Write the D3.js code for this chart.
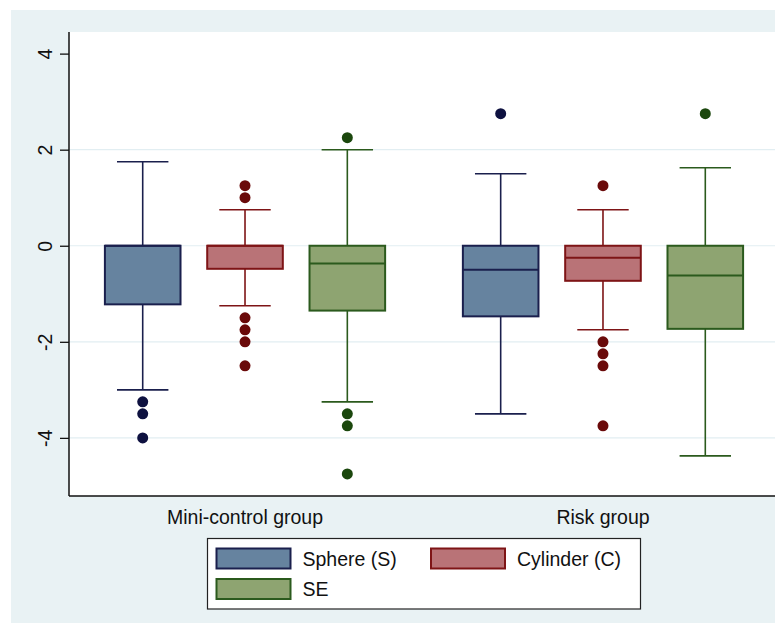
<!DOCTYPE html>
<html>
<head>
<meta charset="utf-8">
<style>
  body { margin: 0; background: white; }
  svg { display: block; font-family: "Liberation Sans", Arial, sans-serif; }
</style>
</head>
<body>
<svg id="chart" width="775" height="625"></svg>
<script src="https://d3js.org/d3.v7.min.js"></script>
<script>
// groups on the x axis and the three measures
const groups = ["Mini-control group", "Risk group"];
const series = ["Sphere (S)", "Cylinder (C)", "SE"];
const yTicks = [-4, -2, 0, 2, 4];
const gridTicks = [-4, -2, 0, 2];

// box stats per series, one entry per group: [lower whisker, q1, median, q3, upper whisker]
const sphereStats = [[-3.0, -1.22, 0, 0, 1.75], [-3.5, -1.47, -0.5, 0, 1.5]];
const cylinderStats = [[-1.25, -0.48, 0, 0, 0.75], [-1.75, -0.73, -0.25, 0, 0.75]];
const seStats = [[-3.25, -1.35, -0.37, 0, 2.0], [-4.375, -1.73, -0.62, 0, 1.625]];

// outside values
const sphereOut = [[-3.25, -3.5, -4.0], [2.75]];
const cylinderOut = [[1.0, 1.25, -1.5, -1.75, -2.0, -2.5], [1.25, -2.0, -2.25, -2.5, -3.75]];
const seOut = [[2.25, -3.5, -3.75, -4.75], [2.75]];

const fills = ["#66839f", "#b97377", "#8ea471"];
const strokes = ["#1a1f4d", "#7e1416", "#2b5a1d"];
const dots = ["#0e1140", "#6a0a0a", "#1b470d"];

const stats = [sphereStats, cylinderStats, seStats];
const outs = [sphereOut, cylinderOut, seOut];

const svg = d3.select("#chart");
const pLeft = 69, pRight = 779, pTop = 32, pBottom = 496;
const fontSize = 19.5;

svg.append("rect").attr("x", 11).attr("y", 10).attr("width", 800).attr("height", 613)
  .attr("fill", "#e9f2f4");
svg.append("rect").attr("x", pLeft).attr("y", pTop).attr("width", pRight - pLeft).attr("height", pBottom - pTop)
  .attr("fill", "white");

const y = d3.scaleLinear().domain([-5.21, 4.45]).range([pBottom, pTop]);
const x0 = d3.scaleBand().domain(groups).range([pLeft, pRight]).paddingInner(0.068).paddingOuter(0.0257);
const x1 = d3.scaleBand().domain(series).range([0, x0.bandwidth()]).padding(0.261);
const bw = x1.bandwidth();
const capW = bw * 0.68;

// grid
svg.append("g").selectAll("line").data(gridTicks).join("line")
  .attr("x1", pLeft).attr("x2", pRight)
  .attr("y1", d => y(d)).attr("y2", d => y(d))
  .attr("stroke", "#e2eef2").attr("stroke-width", 1.2);

// boxes
groups.forEach((g, gi) => {
  series.forEach((s, si) => {
    const [lo, q1, med, q3, hi] = stats[si][gi];
    const cx = x0(g) + x1(s) + bw / 2;
    const gg = svg.append("g");
    gg.append("line").attr("x1", cx).attr("x2", cx).attr("y1", y(hi)).attr("y2", y(q3))
      .attr("stroke", strokes[si]).attr("stroke-width", 1.6);
    gg.append("line").attr("x1", cx).attr("x2", cx).attr("y1", y(q1)).attr("y2", y(lo))
      .attr("stroke", strokes[si]).attr("stroke-width", 1.6);
    [lo, hi].forEach(v => {
      gg.append("line").attr("x1", cx - capW / 2).attr("x2", cx + capW / 2)
        .attr("y1", y(v)).attr("y2", y(v))
        .attr("stroke", strokes[si]).attr("stroke-width", 1.6);
    });
    gg.append("rect").attr("x", cx - bw / 2).attr("y", y(q3))
      .attr("width", bw).attr("height", y(q1) - y(q3))
      .attr("fill", fills[si]).attr("stroke", strokes[si]).attr("stroke-width", 2);
    gg.append("line").attr("x1", cx - bw / 2).attr("x2", cx + bw / 2)
      .attr("y1", y(med)).attr("y2", y(med))
      .attr("stroke", strokes[si]).attr("stroke-width", 2);
    gg.selectAll("circle").data(outs[si][gi]).join("circle")
      .attr("cx", cx).attr("cy", d => y(d)).attr("r", 5.5)
      .attr("fill", dots[si]);
  });
});

// y axis
const yAxis = svg.append("g").attr("transform", `translate(${pLeft},0)`)
  .call(d3.axisLeft(y).tickValues(yTicks).tickFormat(d => String(d))
    .tickSize(9).tickPadding(15).tickSizeOuter(0));
yAxis.select(".domain").attr("stroke", "#111").attr("stroke-width", 1.5)
  .attr("d", `M0,${pTop}V${pBottom}`);
yAxis.selectAll(".tick line").attr("stroke", "#111").attr("stroke-width", 1.3);
yAxis.selectAll(".tick text")
  .attr("font-size", fontSize).attr("fill", "#111")
  .attr("font-family", "'Liberation Sans', Arial, sans-serif")
  .attr("text-anchor", "middle").attr("dy", "0.35em")
  .attr("transform", function() {
    const tx = +d3.select(this).attr("x");
    return `translate(${tx},0) rotate(-90)`;
  })
  .attr("x", 0);

// x axis line
svg.append("line").attr("x1", pLeft).attr("x2", pRight).attr("y1", pBottom).attr("y2", pBottom)
  .attr("stroke", "#111").attr("stroke-width", 1.5);

svg.append("g").selectAll("text").data(groups).join("text")
  .attr("x", d => x0(d) + x0.bandwidth() / 2).attr("y", 524)
  .attr("text-anchor", "middle").attr("font-size", fontSize).attr("fill", "#111")
  .text(d => d);

// legend
const lg = svg.append("g");
const lgX = 207.5, lgY = 538.5, lgW = 433, lgH = 70.5;
lg.append("rect").attr("x", lgX).attr("y", lgY).attr("width", lgW).attr("height", lgH)
  .attr("fill", "white").attr("stroke", "#222").attr("stroke-width", 1.2);
const legPos = [[216.5, 548.5], [431, 548.5], [216.5, 579]];
series.forEach((s, i) => {
  const [lx, ly] = legPos[i];
  lg.append("rect").attr("x", lx).attr("y", ly).attr("width", 74).attr("height", 20)
    .attr("fill", fills[i]).attr("stroke", strokes[i]).attr("stroke-width", 2);
  lg.append("text").attr("x", lx + 86).attr("y", ly + 17)
    .attr("font-size", fontSize).attr("fill", "#111").text(s);
});
</script>
</body>
</html>
